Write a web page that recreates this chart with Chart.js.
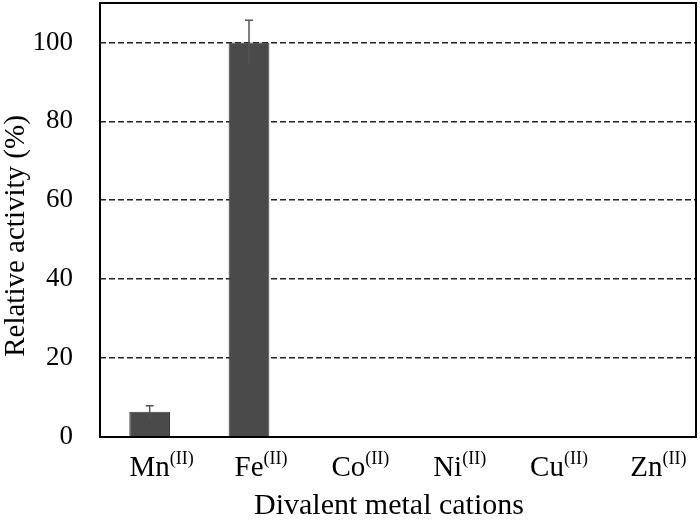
<!DOCTYPE html>
<html lang="en">
<head>
  <meta charset="UTF-8" />
  <title>Relative activity</title>
  <style>
    html, body { margin: 0; padding: 0; background: #fff; }
    #wrap { width: 700px; height: 521px; }
  </style>
</head>
<body>
  <div id="wrap"><canvas id="myChart" width="700" height="521"></canvas></div>
  <script src="https://cdn.jsdelivr.net/npm/chart.js@4.4.1/dist/chart.umd.min.js"></script>
  <script>
    // data
    const metals = ["Mn", "Fe", "Co", "Ni", "Cu", "Zn"];
    const oxState = "(II)";
    const activity = [6.4, 100, 0, 0, 0, 0];
    const activityErr = [1.5, 5.6, 0, 0, 0, 0];
    const yTicks = [0, 20, 40, 60, 80, 100];
    const xTitle = "Divalent metal cations";
    const yTitle = "Relative activity (%)";

    const serif = "'Liberation Serif', 'Times New Roman', serif";

    // frame, error bars, axis titles and the (II) superscripts
    const extras = {
      id: "extras",
      afterDatasetsDraw(chart) {
        const ctx = chart.ctx;
        const x = chart.scales.x, y = chart.scales.y;
        ctx.save();
        ctx.strokeStyle = "#555";
        ctx.lineWidth = 1.5;
        activity.forEach((v, i) => {
          const e = activityErr[i];
          if (!e) return;
          const cx = x.getPixelForValue(i);
          const top = y.getPixelForValue(v + e);
          const bot = y.getPixelForValue(v - e);
          ctx.beginPath();
          ctx.moveTo(cx, bot); ctx.lineTo(cx, top);
          ctx.moveTo(cx - 4, top); ctx.lineTo(cx + 4, top);
          ctx.stroke();
        });
        const a = chart.chartArea;
        ctx.strokeStyle = "#000";
        ctx.lineWidth = 2;
        ctx.strokeRect(a.left, a.top, a.right - a.left, a.bottom - a.top);
        ctx.restore();
      },
      afterDraw(chart) {
        const ctx = chart.ctx;
        const x = chart.scales.x;
        ctx.save();
        ctx.fillStyle = "#000";
        ctx.textBaseline = "alphabetic";
        metals.forEach((m, i) => {
          ctx.font = "29px " + serif;
          const w = ctx.measureText(m).width;
          const cx = x.getPixelForValue(i);
          ctx.font = "18px " + serif;
          ctx.textAlign = "left";
          ctx.fillText(oxState, cx + w / 2, 464);
        });
        ctx.font = "30px " + serif;
        ctx.textAlign = "center";
        ctx.fillText(xTitle, 389, 514);
        ctx.translate(24, 236);
        ctx.rotate(-Math.PI / 2);
        ctx.font = "29px " + serif;
        ctx.fillText(yTitle, 0, 0);
        ctx.restore();
      }
    };

    new Chart(document.getElementById("myChart"), {
      type: "bar",
      data: {
        labels: metals,
        datasets: [{
          data: activity,
          backgroundColor: "#4a4a4a",
          borderColor: "#3a3a3a",
          borderWidth: 1,
          barPercentage: 0.41,
          categoryPercentage: 1.0
        }]
      },
      options: {
        responsive: false,
        animation: false,
        layout: { padding: { top: 3, right: 4, left: 0, bottom: 0 } },
        plugins: { legend: { display: false }, tooltip: { enabled: false } },
        scales: {
          x: {
            grid: { display: false, drawTicks: false },
            border: { display: false },
            ticks: { color: "#000", font: { family: serif, size: 29 }, padding: 14 },
            afterFit(s) { s.height = 84; s.paddingLeft = 0; s.paddingRight = 0; }
          },
          y: {
            min: 0,
            max: 110,
            afterBuildTicks(s) { s.ticks = yTicks.map(v => ({ value: v })); },
            grid: {
              drawTicks: false,
              color: ctx => (ctx.tick && ctx.tick.value > 0 && ctx.tick.value <= 100) ? "#222" : "rgba(0,0,0,0)",
              lineWidth: 1.6
            },
            border: { display: false, dash: [6, 3] },
            ticks: { color: "#000", font: { family: serif, size: 27 }, padding: 27 },
            afterFit(s) { s.width = 100; s.paddingTop = 0; s.paddingBottom = 0; }
          }
        }
      },
      plugins: [extras]
    });
  </script>
</body>
</html>
